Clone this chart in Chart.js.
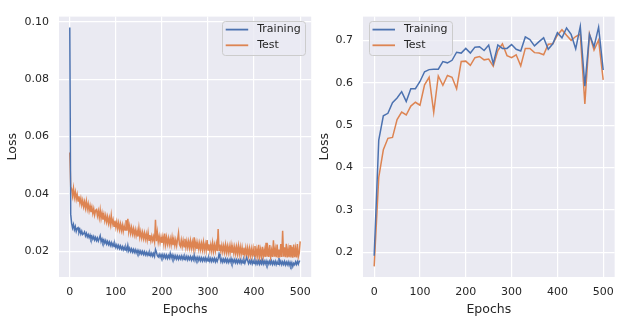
<!DOCTYPE html>
<html>
<head>
<meta charset="utf-8">
<script src="https://cdn.jsdelivr.net/npm/chart.js@4/dist/chart.umd.min.js"></script>
<style>
  html, body { margin: 0; padding: 0; background: #ffffff; }
  .panel { position: absolute; top: 0; height: 322px; }
  #left { left: 0; width: 320px; }
  #right { left: 310px; width: 313px; }
</style>
</head>
<body>
<div class="panel" id="left"><canvas id="lossChart"></canvas></div>
<div class="panel" id="right"><canvas id="accChart"></canvas></div>
<script>
/* left panel: logged every 2 epochs */
const epochsLeft = Array.from({ length: 251 }, (_, i) => i * 2);

const trainLoss = [
  0.0980, 0.0330, 0.0298, 0.0282, 0.0294, 0.0276, 0.0287, 0.0270, 0.0280, 0.0283,
  0.0266, 0.0275, 0.0261, 0.0271, 0.0259, 0.0262, 0.0268, 0.0254, 0.0263, 0.0251,
  0.0259, 0.0248, 0.0257, 0.0244, 0.0253, 0.0243, 0.0252, 0.0240, 0.0249, 0.0238,
  0.0247, 0.0236, 0.0245, 0.0255, 0.0234, 0.0243, 0.0231, 0.0240, 0.0229, 0.0238,
  0.0226, 0.0235, 0.0224, 0.0233, 0.0221, 0.0231, 0.0219, 0.0228, 0.0217, 0.0226,
  0.0214, 0.0223, 0.0212, 0.0221, 0.0210, 0.0219, 0.0208, 0.0217, 0.0206, 0.0215,
  0.0205, 0.0214, 0.0203, 0.0221, 0.0202, 0.0211, 0.0200, 0.0209, 0.0198, 0.0207,
  0.0197, 0.0206, 0.0195, 0.0204, 0.0194, 0.0203, 0.0192, 0.0201, 0.0191, 0.0200,
  0.0190, 0.0199, 0.0188, 0.0197, 0.0187, 0.0196, 0.0186, 0.0195, 0.0185, 0.0194,
  0.0184, 0.0193, 0.0183, 0.0207, 0.0198, 0.0185, 0.0181, 0.0190, 0.0180, 0.0189,
  0.0179, 0.0189, 0.0178, 0.0188, 0.0177, 0.0187, 0.0176, 0.0186, 0.0177, 0.0193,
  0.0178, 0.0188, 0.0176, 0.0186, 0.0175, 0.0185, 0.0174, 0.0184, 0.0173, 0.0183,
  0.0174, 0.0184, 0.0173, 0.0183, 0.0172, 0.0182, 0.0173, 0.0183, 0.0171, 0.0181,
  0.0172, 0.0182, 0.0170, 0.0180, 0.0171, 0.0187, 0.0169, 0.0179, 0.0170, 0.0180,
  0.0169, 0.0179, 0.0168, 0.0178, 0.0167, 0.0177, 0.0168, 0.0178, 0.0166, 0.0176,
  0.0167, 0.0177, 0.0166, 0.0176, 0.0165, 0.0175, 0.0166, 0.0176, 0.0164, 0.0174,
  0.0165, 0.0175, 0.0191, 0.0178, 0.0164, 0.0174, 0.0163, 0.0173, 0.0164, 0.0174,
  0.0163, 0.0173, 0.0162, 0.0172, 0.0163, 0.0175, 0.0161, 0.0171, 0.0162, 0.0172,
  0.0161, 0.0171, 0.0160, 0.0170, 0.0161, 0.0171, 0.0159, 0.0169, 0.0160, 0.0170,
  0.0159, 0.0169, 0.0179, 0.0168, 0.0158, 0.0168, 0.0159, 0.0169, 0.0157, 0.0167,
  0.0158, 0.0168, 0.0156, 0.0166, 0.0157, 0.0167, 0.0156, 0.0166, 0.0157, 0.0169,
  0.0156, 0.0166, 0.0157, 0.0167, 0.0155, 0.0165, 0.0156, 0.0166, 0.0157, 0.0167,
  0.0155, 0.0165, 0.0156, 0.0166, 0.0154, 0.0164, 0.0155, 0.0177, 0.0157, 0.0166,
  0.0154, 0.0164, 0.0155, 0.0165, 0.0153, 0.0163, 0.0154, 0.0164, 0.0152, 0.0162,
  0.0151, 0.0161, 0.0148, 0.0159, 0.0154, 0.0164, 0.0155, 0.0165, 0.0156, 0.0166,
  0.0165
];

const testLoss = [
  0.0545, 0.0425, 0.0418, 0.0394, 0.0420, 0.0388, 0.0407, 0.0382, 0.0399, 0.0376,
  0.0392, 0.0368, 0.0385, 0.0362, 0.0378, 0.0356, 0.0373, 0.0351, 0.0375, 0.0348,
  0.0366, 0.0342, 0.0359, 0.0337, 0.0354, 0.0332, 0.0349, 0.0327, 0.0343, 0.0346,
  0.0324, 0.0341, 0.0318, 0.0345, 0.0315, 0.0334, 0.0311, 0.0329, 0.0307, 0.0325,
  0.0303, 0.0321, 0.0298, 0.0317, 0.0294, 0.0326, 0.0295, 0.0310, 0.0288, 0.0307,
  0.0284, 0.0303, 0.0280, 0.0299, 0.0276, 0.0295, 0.0273, 0.0292, 0.0270, 0.0289,
  0.0275, 0.0309, 0.0272, 0.0314, 0.0269, 0.0289, 0.0264, 0.0283, 0.0261, 0.0279,
  0.0258, 0.0276, 0.0255, 0.0273, 0.0252, 0.0282, 0.0250, 0.0269, 0.0247, 0.0266,
  0.0245, 0.0264, 0.0243, 0.0261, 0.0240, 0.0266, 0.0239, 0.0257, 0.0237, 0.0254,
  0.0238, 0.0252, 0.0234, 0.0310, 0.0236, 0.0266, 0.0233, 0.0253, 0.0231, 0.0250,
  0.0230, 0.0251, 0.0227, 0.0262, 0.0225, 0.0249, 0.0226, 0.0246, 0.0224, 0.0244,
  0.0223, 0.0249, 0.0222, 0.0243, 0.0221, 0.0240, 0.0220, 0.0241, 0.0264, 0.0225,
  0.0218, 0.0240, 0.0217, 0.0238, 0.0216, 0.0244, 0.0215, 0.0236, 0.0214, 0.0235,
  0.0213, 0.0237, 0.0212, 0.0233, 0.0211, 0.0249, 0.0210, 0.0232, 0.0209, 0.0230,
  0.0208, 0.0229, 0.0207, 0.0228, 0.0206, 0.0232, 0.0205, 0.0226, 0.0204, 0.0240,
  0.0205, 0.0225, 0.0203, 0.0224, 0.0202, 0.0230, 0.0201, 0.0223, 0.0202, 0.0226,
  0.0201, 0.0278, 0.0204, 0.0224, 0.0200, 0.0221, 0.0199, 0.0220, 0.0198, 0.0223,
  0.0197, 0.0219, 0.0196, 0.0218, 0.0196, 0.0222, 0.0195, 0.0217, 0.0194, 0.0216,
  0.0193, 0.0216, 0.0192, 0.0219, 0.0191, 0.0215, 0.0190, 0.0214, 0.0189, 0.0213,
  0.0188, 0.0212, 0.0187, 0.0211, 0.0186, 0.0210, 0.0185, 0.0209, 0.0185, 0.0210,
  0.0184, 0.0219, 0.0183, 0.0207, 0.0182, 0.0223, 0.0182, 0.0206, 0.0181, 0.0216,
  0.0182, 0.0205, 0.0181, 0.0230, 0.0182, 0.0209, 0.0181, 0.0222, 0.0180, 0.0204,
  0.0181, 0.0239, 0.0182, 0.0208, 0.0180, 0.0224, 0.0181, 0.0207, 0.0180, 0.0226,
  0.0181, 0.0272, 0.0182, 0.0214, 0.0180, 0.0227, 0.0179, 0.0208, 0.0180, 0.0222,
  0.0179, 0.0216, 0.0178, 0.0224, 0.0180, 0.0210, 0.0179, 0.0226, 0.0181, 0.0194,
  0.0235
];

/* right panel: logged every 10 epochs */
const epochsRight = [
  0, 10, 20, 30, 40, 50, 60, 70, 80, 90, 100, 110, 120, 130, 140, 150, 160, 170, 180, 190,
  200, 210, 220, 230, 240, 250, 260, 270, 280, 290, 300, 310, 320, 330, 340, 350, 360, 370,
  380, 390, 400, 410, 420, 430, 440, 450, 460, 470, 480, 490, 500
];
const trainRight = [
  0.192, 0.465, 0.522, 0.528, 0.553, 0.564, 0.579, 0.556, 0.586, 0.586,
  0.603, 0.626, 0.631, 0.632, 0.632, 0.650, 0.647, 0.653, 0.672, 0.670,
  0.681, 0.670, 0.684, 0.685, 0.676, 0.689, 0.645, 0.689, 0.681, 0.681,
  0.690, 0.679, 0.675, 0.708, 0.702, 0.687, 0.697, 0.706, 0.679, 0.692,
  0.718, 0.706, 0.729, 0.714, 0.680, 0.733, 0.592, 0.714, 0.685, 0.731,
  0.630
];
const testRight = [
  0.167, 0.377, 0.442, 0.469, 0.471, 0.513, 0.531, 0.524, 0.545, 0.554,
  0.547, 0.595, 0.613, 0.530, 0.616, 0.594, 0.617, 0.613, 0.586, 0.650,
  0.651, 0.641, 0.659, 0.662, 0.654, 0.656, 0.639, 0.676, 0.692, 0.664,
  0.659, 0.666, 0.640, 0.681, 0.681, 0.671, 0.670, 0.666, 0.691, 0.692,
  0.712, 0.725, 0.712, 0.700, 0.709, 0.715, 0.550, 0.715, 0.677, 0.701,
  0.607
];

const xTicks = [0, 100, 200, 300, 400, 500];
const yTicksLeft = [0.02, 0.04, 0.06, 0.08, 0.10];
const yTicksRight = [0.2, 0.3, 0.4, 0.5, 0.6, 0.7];

const BLUE = '#4c72b0';
const ORANGE = '#dd8452';
const TEXT = '#262626';
const FONT = '"DejaVu Sans", sans-serif';

function pairs(xs, ys) {
  return ys.map((y, i) => ({ x: xs[i], y: y }));
}

// grey panel behind the plot, seaborn darkgrid style
const panelBg = {
  id: 'panelBg',
  beforeDraw(chart) {
    const { ctx, chartArea: a } = chart;
    ctx.save();
    ctx.fillStyle = '#eaeaf2';
    ctx.fillRect(a.left, a.top, a.right - a.left, a.bottom - a.top);
    ctx.restore();
  }
};

// matplotlib-like legend box inside the axes
const boxLegend = {
  id: 'boxLegend',
  afterDatasetsDraw(chart, args, opts) {
    const { ctx, chartArea: a } = chart;
    const w = 83, h = 34;
    const x = opts.side === 'right' ? a.right - 6 - w : a.left + 6;
    const y = a.top + 4;
    ctx.save();
    ctx.fillStyle = 'rgba(234,234,242,0.8)';
    ctx.strokeStyle = '#cccccc';
    ctx.lineWidth = 1;
    ctx.beginPath();
    ctx.roundRect(Math.round(x) + 0.5, Math.round(y) + 0.5, w, h, 3);
    ctx.fill();
    ctx.stroke();
    ctx.font = '11px ' + FONT;
    ctx.textBaseline = 'middle';
    chart.data.datasets.forEach((ds, i) => {
      const ly = y + 9 + i * 15.7;
      ctx.strokeStyle = ds.borderColor;
      ctx.lineWidth = 1.8;
      ctx.beginPath();
      ctx.moveTo(x + 3.5, ly);
      ctx.lineTo(x + 26, ly);
      ctx.stroke();
      ctx.fillStyle = TEXT;
      ctx.fillText(ds.label, x + 35, ly);
    });
    ctx.restore();
  }
};

function makeChart(id, cfg) {
  return new Chart(document.getElementById(id), {
    type: 'line',
    data: {
      datasets: [
        { label: 'Training', data: cfg.train, borderColor: BLUE, backgroundColor: BLUE },
        { label: 'Test', data: cfg.test, borderColor: ORANGE, backgroundColor: ORANGE }
      ]
    },
    plugins: [panelBg, boxLegend],
    options: {
      responsive: true,
      maintainAspectRatio: false,
      animation: false,
      events: [],
      layout: { padding: { top: 8, right: cfg.padRight, left: 0, bottom: 0 } },
      elements: {
        point: { radius: 0 },
        line: { borderWidth: 1.5, tension: 0 }
      },
      plugins: {
        legend: { display: false },
        tooltip: { enabled: false },
        boxLegend: { side: cfg.legendSide }
      },
      scales: {
        x: {
          type: 'linear',
          min: cfg.xMin,
          max: cfg.xMax,
          afterBuildTicks: s => { s.ticks = xTicks.map(v => ({ value: v })); },
          afterFit: s => { s.height = 45; },
          grid: { color: '#ffffff', lineWidth: 1.2, drawTicks: false },
          border: { display: false },
          ticks: { color: TEXT, font: { family: FONT, size: 11 }, padding: 9, maxRotation: 0 },
          title: { display: true, text: 'Epochs', color: TEXT, font: { family: FONT, size: 12.5 }, padding: { top: 0, bottom: 5 } }
        },
        y: {
          type: 'linear',
          min: cfg.yMin,
          max: cfg.yMax,
          afterBuildTicks: s => { s.ticks = cfg.yTicks.map(v => ({ value: v })); },
          afterFit: s => { s.width = cfg.yWidth; },
          grid: { color: '#ffffff', lineWidth: 1.2, drawTicks: false },
          border: { display: false },
          ticks: {
            color: TEXT, font: { family: FONT, size: 11 }, padding: 10,
            callback: v => v.toFixed(cfg.digits)
          },
          title: { display: true, text: 'Loss', color: TEXT, font: { family: FONT, size: 12.5 }, padding: { top: cfg.titlePad, bottom: 0 } }
        }
      }
    }
  });
}

makeChart('lossChart', {
  train: pairs(epochsLeft, trainLoss),
  test: pairs(epochsLeft, testLoss),
  xMin: -23.4, xMax: 524,
  yMin: 0.0111, yMax: 0.1018,
  yTicks: yTicksLeft, digits: 2,
  yWidth: 59, padRight: 8, titlePad: 5,
  legendSide: 'right'
});

makeChart('accChart', {
  train: pairs(epochsRight, trainRight),
  test: pairs(epochsRight, testRight),
  xMin: -24.4, xMax: 525,
  yMin: 0.142, yMax: 0.756,
  yTicks: yTicksRight, digits: 1,
  yWidth: 53, padRight: 7, titlePad: 7,
  legendSide: 'left'
});
</script>
</body>
</html>
